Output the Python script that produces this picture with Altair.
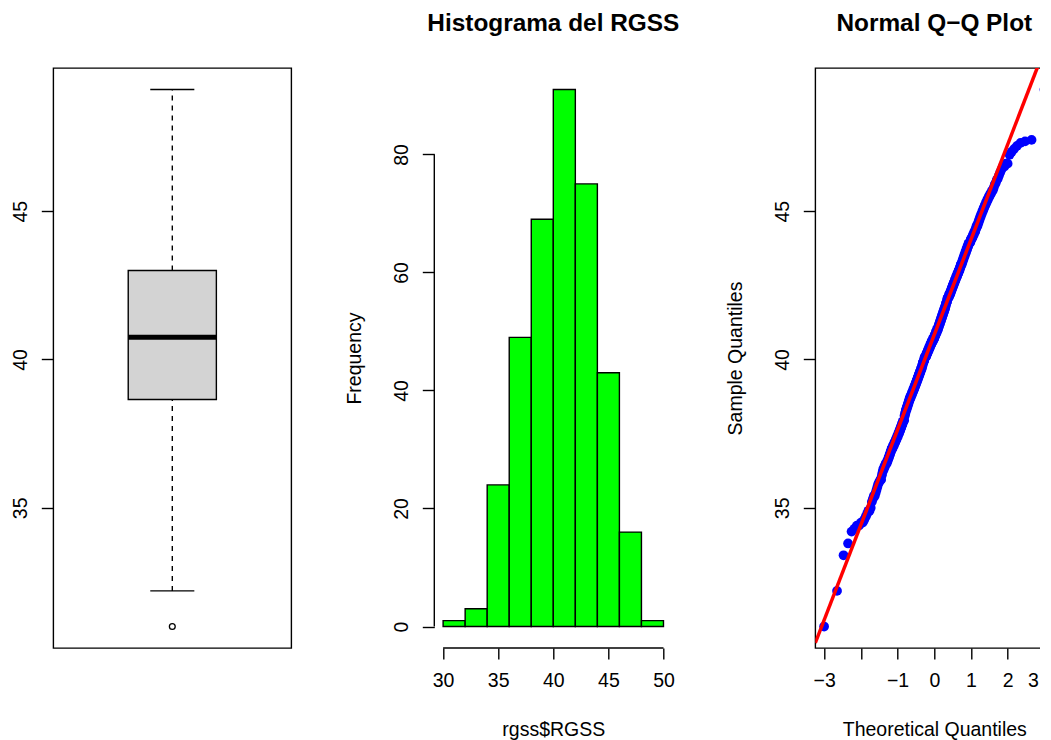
import altair as alt
import numpy as np
import pandas as pd
from statistics import NormalDist

# ---------------- data ----------------
# distinct RGSS values and how many times each occurs (n = 372)
rgss_values = [
    31.0, 32.2, 33.4, 33.8,
    34.2, 34.3, 34.4, 34.5, 34.6, 34.7, 34.8, 34.9, 35.0, 35.2, 35.3, 35.4,
    35.5, 35.6, 35.7, 35.8, 35.85, 35.9, 35.95,
    36.1, 36.2, 36.3, 36.4, 36.5, 36.6, 36.7, 36.8, 36.9, 37.0, 37.1, 37.2,
    37.3, 37.4, 37.5, 37.6, 37.7, 37.8, 37.9, 37.95,
    38.1, 38.2, 38.3, 38.4, 38.5, 38.6, 38.7, 38.8, 38.9, 39.0, 39.1, 39.2,
    39.3, 39.4, 39.5, 39.6, 39.7, 39.8, 39.9, 39.95,
    40.05, 40.1, 40.2, 40.3, 40.4, 40.5, 40.6, 40.7, 40.8, 40.9, 41.0, 41.1,
    41.2, 41.3, 41.4, 41.5, 41.6, 41.7, 41.8, 41.9, 41.95,
    42.05, 42.1, 42.2, 42.3, 42.4, 42.5, 42.6, 42.7, 42.8, 42.9, 43.0, 43.1,
    43.2, 43.3, 43.4, 43.5, 43.6, 43.7, 43.8, 43.9, 43.95,
    44.05, 44.1, 44.2, 44.3, 44.4, 44.5, 44.6, 44.7, 44.8, 44.9, 45.0, 45.1,
    45.2, 45.3, 45.4, 45.5, 45.6, 45.7, 45.8, 45.9, 45.95,
    46.05, 46.1, 46.2, 46.3, 46.4, 46.5, 46.6, 46.9, 47.0, 47.1, 47.2, 47.3,
    47.35, 47.4,
    49.1,
]
rgss_counts = [
    1, 1, 1, 1,
    1, 1, 2, 2, 1, 1, 1, 2, 1, 1, 1, 2,
    1, 1, 1, 1, 1, 1, 2,
    1, 1, 2, 2, 3, 2, 2, 2, 2, 3, 3, 3,
    3, 3, 3, 3, 3, 3, 3, 2,
    2, 2, 3, 3, 3, 3, 4, 4, 4, 4, 4, 4,
    4, 4, 4, 4, 4, 3, 3, 3,
    3, 5, 5, 5, 5, 5, 6, 6, 5, 5, 5, 4,
    4, 4, 4, 4, 4, 4, 3, 3, 2,
    3, 4, 5, 4, 4, 4, 4, 4, 4, 4, 4, 3,
    4, 3, 3, 3, 3, 3, 3, 3, 3,
    2, 3, 3, 3, 2, 3, 2, 2, 2, 2, 2, 2,
    2, 2, 2, 2, 2, 2, 1, 1, 1,
    1, 1, 1, 1, 1, 2, 2, 1, 1, 1, 1, 1,
    1, 1,
    1,
]

hist_extent = [30, 50]
hist_step = 2
hist_x_ticks = [30, 35, 40, 45, 50]
hist_y_ticks = [0, 20, 40, 60, 80]
sample_ticks = [35, 40, 45]
theo_ticks = [-3, -2, -1, 0, 1, 2, 3]

hist_title = "Histograma del RGSS"
qq_title = "Normal Q\u2212Q Plot"
hist_xlab = "rgss$RGSS"
hist_ylab = "Frequency"
qq_xlab = "Theoretical Quantiles"
qq_ylab = "Sample Quantiles"

# ---------------- derived tables ----------------
sample = np.sort(np.repeat(np.array(rgss_values), np.array(rgss_counts)))
n = len(sample)
df = pd.DataFrame({"RGSS": sample})


def fivenum(x):
    x = np.sort(x)
    m = len(x)
    n4 = np.floor((m + 3) / 2) / 2
    d = np.array([1, n4, (m + 1) / 2, m + 1 - n4, m])
    return 0.5 * (x[np.floor(d).astype(int) - 1] + x[np.ceil(d).astype(int) - 1])


fn = fivenum(sample)
q1, med, q3 = fn[1], fn[2], fn[3]
iqr = q3 - q1
inside = sample[(sample >= q1 - 1.5 * iqr) & (sample <= q3 + 1.5 * iqr)]
box_df = pd.DataFrame({"pos": [1.0], "q1": [q1], "med": [med], "q3": [q3],
                       "wlo": [inside.min()], "whi": [inside.max()]})
out_df = pd.DataFrame({"pos": 1.0,
                       "RGSS": sample[(sample < inside.min()) | (sample > inside.max())]})


def rexpand(lo, hi):
    p = 0.04 * (hi - lo)
    return [lo - p, hi + p]


y_dom = rexpand(sample.min(), sample.max())

nd = NormalDist()
theo = np.array([nd.inv_cdf((i - 0.5) / n) for i in range(1, n + 1)])
qq_df = pd.DataFrame({"theo": theo, "RGSS": sample})
x_dom_qq = rexpand(theo.min(), theo.max())

qa, qb = np.quantile(sample, [0.25, 0.75])
slope = (qb - qa) / (nd.inv_cdf(0.75) - nd.inv_cdf(0.25))
inter = qa - slope * nd.inv_cdf(0.25)
line_df = pd.DataFrame({"theo": x_dom_qq, "RGSS": [inter + slope * v for v in x_dom_qq]})

hist_axes_df = pd.DataFrame({"x0": [hist_x_ticks[0]], "x1": [hist_x_ticks[-1]],
                             "y0": [hist_y_ticks[0]], "y1": [hist_y_ticks[-1]]})

# ---------------- styling ----------------
W, H = 238, 580
FONT = "Liberation Sans"
FS = 19.5
LW = 1.4

common_axis = dict(labelFont=FONT, labelFontSize=FS, labelColor="black",
                   tickColor="black", tickWidth=LW, grid=False, domain=False,
                   labelFlush=False, labelOverlap=False, labelBound=False,
                   titleFont=FONT, titleFontSize=FS, titleFontWeight="normal",
                   titleColor="black")


def left_axis(values, title=None):
    kw = dict(common_axis)
    kw.update(values=values, tickSize=12, labelAngle=270, labelAlign="center",
              labelBaseline="bottom", labelPadding=11)
    if title:
        kw.update(title=title, titleAngle=270, titleX=-74, titleY=H / 2,
                  titleAlign="center", titleBaseline="alphabetic")
    else:
        kw.update(title=None)
    return alt.Axis(**kw)


def bottom_axis(values, title, label_expr=None, edge_value=None):
    kw = dict(common_axis)
    kw.update(values=values, tickSize=11, labelPadding=13, labelAngle=0,
              labelBaseline="top", title=title, titleX=W / 2, titleY=88,
              titleAlign="center", titleBaseline="alphabetic")
    if label_expr:
        kw.update(labelExpr=label_expr)
    if edge_value is not None:
        # keep the label at the page edge inside the picture
        kw.update(labelAlign={"condition": {"test": f"datum.value == {edge_value}",
                                            "value": "right"}, "value": "center"},
                  labelOffset={"condition": {"test": f"datum.value == {edge_value}",
                                             "value": -6}, "value": 0})
    return alt.Axis(**kw)


def title_params(text):
    return alt.TitleParams(text, font=FONT, fontSize=24.4, fontWeight="bold",
                           color="black", anchor="middle", baseline="alphabetic",
                           offset=13)


# ---------------- panel 1: boxplot ----------------
ys_box = alt.Scale(domain=y_dom, zero=False, nice=False)
xs_box = alt.Scale(domain=rexpand(0.5, 1.5), zero=False, nice=False)
yax_box = left_axis(sample_ticks)


def yb(field):
    return alt.Y(field, type="quantitative", scale=ys_box, axis=yax_box)


def xb(field):
    return alt.X(field, type="quantitative", scale=xs_box, axis=None)


BOX_HALF, CAP_HALF = 0.2, 0.1
bbase = alt.Chart(box_df).transform_calculate(
    blo=f"datum.pos - {BOX_HALF}", bhi=f"datum.pos + {BOX_HALF}",
    clo=f"datum.pos - {CAP_HALF}", chi=f"datum.pos + {CAP_HALF}")

wh_up = bbase.mark_rule(color="black", strokeWidth=LW, strokeDash=[5, 5]).encode(
    x=xb("pos"), y=yb("q3"), y2="whi")
wh_lo = bbase.mark_rule(color="black", strokeWidth=LW, strokeDash=[5, 5]).encode(
    x=xb("pos"), y=yb("wlo"), y2="q1")
cap_up = bbase.mark_rule(color="black", strokeWidth=LW).encode(
    x=xb("clo"), x2="chi", y=yb("whi"))
cap_lo = bbase.mark_rule(color="black", strokeWidth=LW).encode(
    x=xb("clo"), x2="chi", y=yb("wlo"))
box = bbase.mark_rect(fill="#D3D3D3", stroke="black", strokeWidth=LW).encode(
    x=xb("blo"), x2="bhi", y=yb("q1"), y2="q3")
median = bbase.mark_rule(color="black", strokeWidth=5).encode(
    x=xb("blo"), x2="bhi", y=yb("med"))
outl = alt.Chart(out_df).mark_point(shape="circle", filled=False, color="black",
                                    size=34, strokeWidth=1.3, opacity=1).encode(
    x=xb("pos"), y=yb("RGSS"))

p_box = alt.layer(wh_up, wh_lo, cap_up, cap_lo, box, median, outl).properties(
    width=W, height=H, view=alt.ViewBackground(stroke="black", strokeWidth=LW))

# ---------------- panel 2: histogram ----------------
xs_h = alt.Scale(domain=rexpand(hist_extent[0], hist_extent[1]), zero=False, nice=False)
ys_h = alt.Scale(domain=[-0.04 * 91, 91 * 1.04], zero=False, nice=False)
xax_h = bottom_axis(hist_x_ticks, hist_xlab)
yax_h = left_axis(hist_y_ticks, hist_ylab)

bars = alt.Chart(df).transform_bin(
    "b0", "RGSS", bin=alt.Bin(extent=hist_extent, step=hist_step)
).transform_aggregate(
    count="count()", groupby=["b0", "b0_end"]
).mark_rect(fill="#00FF00", stroke="black", strokeWidth=LW).encode(
    x=alt.X("b0:Q", scale=xs_h, axis=xax_h), x2="b0_end:Q",
    y=alt.Y("count:Q", scale=ys_h, axis=yax_h), y2=alt.datum(0))

h_xline = alt.Chart(hist_axes_df).mark_rule(color="black", strokeWidth=LW).encode(
    x=alt.X("x0:Q", scale=xs_h, axis=xax_h), x2="x1:Q", y=alt.value(H))
h_yline = alt.Chart(hist_axes_df).mark_rule(color="black", strokeWidth=LW).encode(
    y=alt.Y("y0:Q", scale=ys_h, axis=yax_h), y2="y1:Q", x=alt.value(0))

p_hist = alt.layer(bars, h_xline, h_yline).properties(
    width=W, height=H, title=title_params(hist_title))

# ---------------- panel 3: normal QQ plot ----------------
xs_q = alt.Scale(domain=x_dom_qq, zero=False, nice=False)
ys_q = alt.Scale(domain=y_dom, zero=False, nice=False)
xax_q = bottom_axis(theo_ticks, qq_xlab,
                    label_expr="datum.value == -2 ? '' : datum.label",
                    edge_value=theo_ticks[-1])
yax_q = left_axis(sample_ticks, qq_ylab)

pts = alt.Chart(qq_df).mark_circle(color="#0000FF", size=95, opacity=1).encode(
    x=alt.X("theo:Q", scale=xs_q, axis=xax_q),
    y=alt.Y("RGSS:Q", scale=ys_q, axis=yax_q))
qline = alt.Chart(line_df).mark_line(color="#FF0000", strokeWidth=3.5, clip=True).encode(
    x=alt.X("theo:Q", scale=xs_q, axis=xax_q),
    y=alt.Y("RGSS:Q", scale=ys_q, axis=yax_q))

p_qq = alt.layer(pts, qline).properties(
    width=W, height=H, title=title_params(qq_title),
    view=alt.ViewBackground(stroke="black", strokeWidth=LW))

chart = alt.hconcat(p_box, p_hist, p_qq, spacing=143, bounds="flush").properties(
    padding={"left": 1.3, "top": 1.0, "right": -14, "bottom": 0},
    background="white",
).configure_view(stroke=None)

chart.save("out.html", embed_options={"renderer": "svg", "actions": False})
